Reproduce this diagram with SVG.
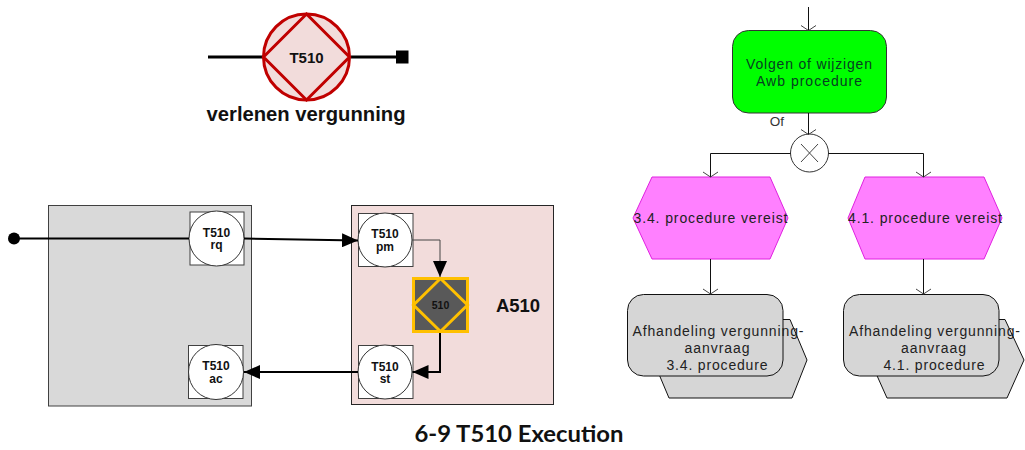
<svg xmlns="http://www.w3.org/2000/svg" width="1025" height="450" viewBox="0 0 1025 450">
<defs>
<style>
text{font-family:"Liberation Sans",Arial,sans-serif;text-anchor:middle}
.b{font-weight:700;fill:#111}
.t{font-size:12px;font-weight:700;fill:#111}
.e{font-size:14px;fill:#222}
.sq{fill:#fff;stroke:#404040;stroke-width:1}
.c{fill:#fff;stroke:#333;stroke-width:1}
.l1{fill:none;stroke:#111;stroke-width:1}
.l2{fill:none;stroke:#000;stroke-width:2}
.hex{fill:#ff80ff;stroke:#e020e0;stroke-width:1}
.gr{fill:#d6d6d6;stroke:#111;stroke-width:1}
</style>
<marker id="ah" markerUnits="userSpaceOnUse" markerWidth="17" markerHeight="14" refX="16" refY="7" orient="auto"><path d="M0 0L16 7L0 14Z" fill="#000"/></marker>
<marker id="oa" markerUnits="userSpaceOnUse" markerWidth="10" markerHeight="16" refX="8" refY="8" orient="auto"><path d="M3 0.5L8 8L3 15.5" fill="none" stroke="#444" stroke-width="1"/></marker>
</defs>
<g id="node-t510-symbol">
<path d="M208 57H263" stroke="#000" stroke-width="3" fill="none"/>
<path d="M351 57H400" stroke="#000" stroke-width="3" fill="none"/>
<circle cx="306.500" cy="57" r="43" fill="#f2dcdb" stroke="#c00000" stroke-width="3"/>
<path d="M306.500 14L349.500 57L306.500 100L263.500 57Z" fill="none" stroke="#c00000" stroke-width="3"/>
<text class="b" x="306.500" y="62.500" font-size="15">T510</text>
<text class="b" x="306" y="120.500" font-size="19.500" textLength="199" lengthAdjust="spacingAndGlyphs">verlenen vergunning</text>
<rect x="396" y="50.500" width="12.500" height="13" fill="#000"/>
</g>
<g id="node-left-box"><rect x="48.500" y="205.500" width="203" height="200.500" fill="#d9d9d9" stroke="#404040" stroke-width="1"/></g>
<g id="node-start"><circle cx="14" cy="238.500" r="6" fill="#000"/></g>
<g id="node-rq">
<rect class="sq" x="190" y="212" width="54" height="53"/><circle class="c" cx="216.500" cy="238.500" r="27.500"/>
<text class="t" x="216.500" y="237">T510</text><text class="t" x="216.500" y="249">rq</text>
</g>
<g id="node-ac">
<rect class="sq" x="188.500" y="345.500" width="54.500" height="53"/><circle class="c" cx="216" cy="372" r="27.500"/>
<text class="t" x="216" y="370">T510</text><text class="t" x="216" y="383">ac</text>
</g>
<g id="node-a510-box">
<rect x="351.500" y="205.500" width="202" height="199" fill="#f2dcdb" stroke="#262626" stroke-width="1"/>
<text class="b" x="518" y="312" font-size="18.500">A510</text>
</g>
<g id="node-pm">
<rect class="sq" x="358.500" y="213.500" width="54.500" height="53"/><circle class="c" cx="385" cy="240" r="27"/>
<text class="t" x="385" y="238">T510</text><text class="t" x="385" y="251">pm</text>
</g>
<g id="node-st">
<rect class="sq" x="358.500" y="345.500" width="54.500" height="53"/><circle class="c" cx="385" cy="372" r="27"/>
<text class="t" x="385" y="371">T510</text><text class="t" x="385" y="383">st</text>
</g>
<g id="node-510">
<rect x="413.500" y="278.500" width="54" height="53" fill="#595959" stroke="#ffc000" stroke-width="3"/>
<path d="M440.500 278.500L467.500 305L440.500 331.500L413.500 305Z" fill="none" stroke="#ffc000" stroke-width="3"/>
<text x="440.500" y="309" font-size="10.500" font-weight="700" fill="#111">510</text>
</g>
<g id="node-volgen">
<rect x="732.500" y="30.500" width="154" height="82.500" rx="16" fill="#00ff00" stroke="#333" stroke-width="1"/>
<text x="809" y="69" font-size="14" fill="#064020" textLength="126">Volgen of wijzigen</text>
<text x="809" y="86" font-size="14" fill="#064020" textLength="106">Awb procedure</text>
</g>
<g id="node-of">
<text x="777" y="126" font-size="13.500" fill="#333">Of</text>
<circle class="c" cx="809.500" cy="153" r="19"/>
<path d="M801 144L818 162M818 144L801 162" stroke="#444" fill="none"/>
</g>
<g id="node-hex-34">
<path class="hex" d="M652 177H770L788 218L770 259H652L633 218Z"/>
<text class="e" x="710.500" y="223" textLength="154">3.4. procedure vereist</text>
</g>
<g id="node-hex-41">
<path class="hex" d="M865 177H984L1002 218L984 259H865L848 218Z"/>
<text class="e" x="925" y="223" textLength="154">4.1. procedure vereist</text>
</g>
<g id="node-afh-34">
<path class="gr" d="M653 360L669 398H792L807 360L790 319.500H653Z"/>
<rect class="gr" x="627.500" y="294.500" width="155.500" height="81.500" rx="16"/>
<text class="e" x="718" y="336" textLength="171">Afhandeling vergunning-</text>
<text class="e" x="717" y="353" textLength="65">aanvraag</text>
<text class="e" x="717" y="370" textLength="101">3.4. procedure</text>
</g>
<g id="node-afh-41">
<path class="gr" d="M870 360L887 398H1007L1024 360L1005 319.500H870Z"/>
<rect class="gr" x="843.500" y="294.500" width="155.500" height="81.500" rx="16"/>
<text class="e" x="934.500" y="336" textLength="171">Afhandeling vergunning-</text>
<text class="e" x="933.500" y="353" textLength="65">aanvraag</text>
<text class="e" x="934" y="370" textLength="101">4.1. procedure</text>
</g>
<g id="connectors">
<path class="l2" d="M14 238.500H189"/>
<path class="l2" d="M244 238.500L358 240.500" marker-end="url(#ah)"/>
<path class="l2" d="M358 372H244" marker-end="url(#ah)"/>
<path d="M412 240H440V277" fill="none" stroke="#444" stroke-width="1" marker-end="url(#ah)"/>
<path class="l2" d="M440 333V372H412.500" marker-end="url(#ah)"/>
<path class="l1" d="M808.500 7V30.500" marker-end="url(#oa)"/>
<path class="l1" d="M808.500 113V134.500" marker-end="url(#oa)"/>
<path class="l1" d="M790.500 153.500H710.500V177" marker-end="url(#oa)"/>
<path class="l1" d="M828.500 153.500H923.500V177" marker-end="url(#oa)"/>
<path class="l1" d="M710.500 259V294" marker-end="url(#oa)"/>
<path class="l1" d="M923.500 259V294" marker-end="url(#oa)"/>
</g>
<text id="caption" x="519" y="442" font-size="22" font-weight="700" fill="#111" style="font-family:Lato,'Liberation Sans',sans-serif" textLength="209" lengthAdjust="spacingAndGlyphs">6-9 T510 Execution</text>
</svg>
